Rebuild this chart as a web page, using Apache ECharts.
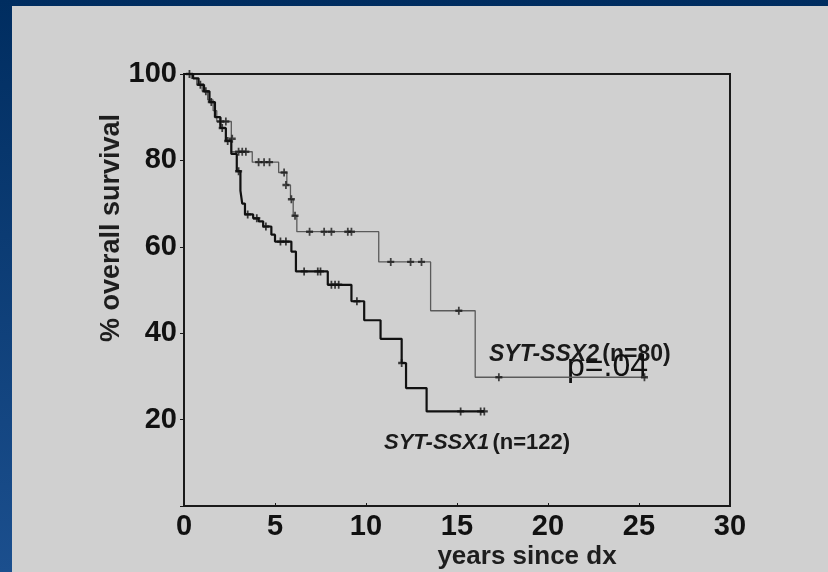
<!DOCTYPE html>
<html>
<head>
<meta charset="utf-8">
<script src="https://cdn.jsdelivr.net/npm/echarts@6/dist/echarts.min.js"></script>
<style>
  html, body { margin: 0; padding: 0; }
  #chart { width: 828px; height: 572px; }
</style>
</head>
<body>
<div id="chart"></div>
<script>
// Kaplan-Meier steps: [years, % surviving]
var ssx2Steps = [
  [0, 100], [0.4, 99], [0.7, 97.5], [1.0, 96], [1.3, 94], [1.6, 91.5], [1.8, 89],
  [2.6, 82], [3.75, 79.6], [5.2, 77.2], [5.65, 74.3], [5.85, 71], [6.0, 67.2],
  [6.2, 63.5], [10.7, 56.5], [13.55, 45.2], [16.0, 29.8], [25.4, 29.8]
];
var ssx2Censored = [
  [2.0, 89], [2.3, 89], [2.65, 85], [3.0, 82], [3.2, 82], [3.4, 82], [4.1, 79.6],
  [4.4, 79.6], [4.7, 79.6], [5.5, 77.2], [5.6, 74.3], [5.9, 71], [6.1, 67.2],
  [6.9, 63.5], [7.7, 63.5], [8.1, 63.5], [9.0, 63.5], [9.2, 63.5], [11.36, 56.5],
  [12.45, 56.5], [13.05, 56.5], [15.1, 45.2], [17.3, 29.8], [25.3, 29.8]
];
var ssx1Steps = [
  [0, 100], [0.5, 99], [0.8, 97.5], [1.1, 96], [1.4, 93.5], [1.7, 90], [2.0, 87.5],
  [2.3, 84.5], [2.6, 81.5], [2.9, 77.5], [3.1, 73], [3.2, 70], [3.35, 67.5],
  [3.8, 66.6], [4.1, 65.9], [4.35, 64.7], [4.8, 62.8], [5.0, 61.2], [5.9, 58.9],
  [6.15, 54.3], [7.9, 51.2], [9.2, 47.4], [9.9, 43], [10.8, 38.7], [11.96, 33.1],
  [12.2, 27.3], [13.33, 21.9], [16.5, 21.9]
];
var ssx1Censored = [
  [0.3, 100], [0.9, 97.5], [1.2, 96], [1.5, 93.5], [2.1, 87.5], [2.4, 84.5],
  [3.0, 77.5], [3.5, 67.5], [4.0, 66.6], [4.5, 64.7], [5.3, 61.2], [5.6, 61.2],
  [6.6, 54.3], [7.35, 54.3], [7.5, 54.3], [8.1, 51.2], [8.3, 51.2], [8.5, 51.2],
  [9.5, 47.4], [11.96, 33.1], [15.2, 21.9], [16.3, 21.9], [16.5, 21.9]
];
var xTicks = [0, 5, 10, 15, 20, 25, 30];
var yTicks = [20, 40, 60, 80, 100];

var tickMark = 'path://M4,0H6V3.5H9V6.5H6V10H4V6.5H1V3.5H4Z';
var font = 'Liberation Sans, Arial, sans-serif';

var chart = echarts.init(document.getElementById('chart'));
chart.setOption({
  animation: false,
  backgroundColor: new echarts.graphic.LinearGradient(0, 0, 0, 1, [
    { offset: 0, color: '#002d60' },
    { offset: 1, color: '#1b4f8e' }
  ]),
  graphic: [
    { type: 'rect', z: -10, shape: { x: 12, y: 6, width: 816, height: 566 }, style: { fill: '#d0d0d0' } },
    {
      type: 'text', x: 112, y: 228, rotation: Math.PI / 2,
      style: { text: '% overall survival', font: 'bold 27px ' + font, fill: '#1e1e1e', align: 'center', verticalAlign: 'middle' }
    },
    {
      type: 'text', x: 527, y: 557,
      style: { text: 'years since dx', font: 'bold 26px ' + font, fill: '#1e1e1e', align: 'center', verticalAlign: 'middle' }
    },
    {
      type: 'text', left: 489, top: 343,
      style: {
        text: '{i|SYT-SSX2} {n|(n=80)}',
        rich: {
          i: { font: 'italic bold 23px ' + font, fill: '#1a1a1a' },
          n: { font: 'bold 23px ' + font, fill: '#1a1a1a' }
        }
      }
    },
    {
      type: 'text', left: 567, top: 351,
      style: { text: 'p=.04', font: '32px ' + font, fill: '#111' }
    },
    {
      type: 'text', left: 384, top: 432,
      style: {
        text: '{i|SYT-SSX1} {n|(n=122)}',
        rich: {
          i: { font: 'italic bold 22px ' + font, fill: '#1a1a1a' },
          n: { font: 'bold 22px ' + font, fill: '#1a1a1a' }
        }
      }
    }
  ],
  grid: {
    left: 184, right: 98, top: 74, bottom: 66,
    show: true, borderColor: '#1a1a1a', borderWidth: 2, backgroundColor: 'transparent'
  },
  xAxis: {
    type: 'value', min: 0, max: 30, interval: 5,
    axisLine: { lineStyle: { color: '#1a1a1a', width: 2 } },
    axisTick: { inside: true, length: 3, lineStyle: { color: '#1a1a1a' } },
    axisLabel: { fontFamily: font, fontSize: 29, fontWeight: 'bold', color: '#111', margin: 6 },
    splitLine: { show: false }
  },
  yAxis: {
    type: 'value', min: 0, max: 100, interval: 20,
    axisLine: { lineStyle: { color: '#1a1a1a', width: 2 } },
    axisTick: { length: 4, lineStyle: { color: '#1a1a1a' } },
    axisLabel: {
      fontFamily: font, fontSize: 29, fontWeight: 'bold', color: '#111', margin: 7,
      formatter: function (v) { return yTicks.indexOf(v) >= 0 ? String(v) : ''; }
    },
    splitLine: { show: false }
  },
  series: [
    {
      type: 'line', step: 'end', data: ssx2Steps, showSymbol: false,
      lineStyle: { color: '#5a5a5a', width: 1.3 }, z: 2
    },
    {
      type: 'scatter', data: ssx2Censored, symbol: tickMark, symbolSize: [7, 8],
      itemStyle: { color: '#1a1a1a' }, z: 3
    },
    {
      type: 'line', step: 'end', data: ssx1Steps, showSymbol: false,
      lineStyle: { color: '#111', width: 2.2 }, z: 4
    },
    {
      type: 'scatter', data: ssx1Censored, symbol: tickMark, symbolSize: [7, 8],
      itemStyle: { color: '#111' }, z: 5
    }
  ]
});
</script>
</body>
</html>
